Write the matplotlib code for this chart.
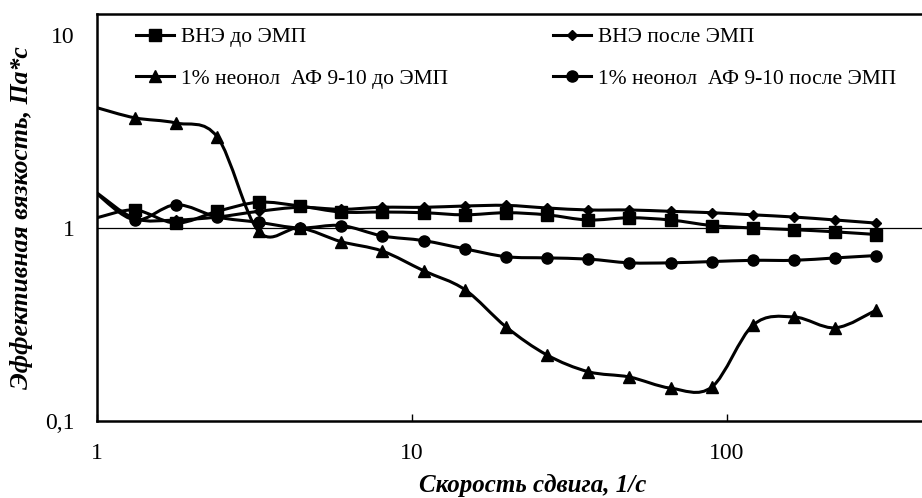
import numpy as np
import matplotlib
matplotlib.use("Agg")
import matplotlib.pyplot as plt
from matplotlib.path import Path
from matplotlib.patches import PathPatch
from matplotlib.lines import Line2D
from matplotlib.ticker import FixedLocator, FuncFormatter, NullLocator

plt.rcParams['font.family'] = ['Liberation Serif', 'DejaVu Serif']

# ---- data ----
shear_rate = [1.0, 1.32, 1.78, 2.41, 3.26, 4.40, 5.95, 8.04, 10.9, 14.7, 19.9,
              26.8, 36.3, 49.0, 66.2, 89.5, 121, 163, 221, 298]
vne_before = [1.13, 1.24, 1.06, 1.22, 1.36, 1.30, 1.21, 1.21, 1.20, 1.17, 1.20,
              1.17, 1.10, 1.13, 1.10, 1.03, 1.00, 0.98, 0.955, 0.925]
vne_after = [1.52, 1.12, 1.10, 1.14, 1.22, 1.28, 1.25, 1.28, 1.28, 1.30, 1.31,
             1.27, 1.24, 1.24, 1.22, 1.20, 1.17, 1.14, 1.10, 1.06]
neonol_before = [4.2, 3.72, 3.5, 2.96, 0.96, 1.0, 0.85, 0.76, 0.60, 0.48, 0.307,
                 0.22, 0.18, 0.169, 0.148, 0.15, 0.314, 0.346, 0.304, 0.376]
neonol_after = [1.5, 1.10, 1.32, 1.14, 1.07, 1.0, 1.03, 0.91, 0.86, 0.78, 0.71,
                0.70, 0.69, 0.66, 0.66, 0.67, 0.68, 0.68, 0.70, 0.72]

labels = ["ВНЭ до ЭМП", "ВНЭ после ЭМП",
          "1% неонол  АФ 9-10 до ЭМП", "1% неонол  АФ 9-10 после ЭМП"]
x_ticks = [1, 10, 100]
y_ticks = [0.1, 1, 10]

W, H = 922, 498
fig = plt.figure(figsize=(W / 100, H / 100), dpi=100)
left, right, top, bottom = 97, 970, 14, 421
ax = fig.add_axes([left / W, 1 - bottom / H, (right - left) / W, (bottom - top) / H])
ax.set_xscale('log')
ax.set_yscale('log')
ax.set_xlim(1, 10 ** ((right - left) / 315))
ax.set_ylim(0.1, 10 ** (-1 + (bottom - top) / 193))


def smooth_path(xs, ys):
    """Excel-like smoothed line as cubic Bezier path (control points in log space)."""
    P = np.column_stack([np.log10(xs), np.log10(ys)])
    n = len(P)
    verts = [P[0]]
    codes = [Path.MOVETO]
    for i in range(n - 1):
        p0 = P[i - 1] if i > 0 else P[i]
        p1, p2 = P[i], P[i + 1]
        p3 = P[i + 2] if i + 2 < n else P[i + 1]
        c1 = p1 + (p2 - p0) / 6
        c2 = p2 - (p3 - p1) / 6
        verts += [c1, c2, p2]
        codes += [Path.CURVE4] * 3
    V = 10 ** np.array(verts)
    return Path(V, codes)


lw = 2.2
series = [
    (vne_before, 's', 8),
    (vne_after, 'D', 5.5),
    (neonol_before, '^', 9),
    (neonol_after, 'o', 8),
]
handles = []
for (ys, mk, ms), lab in zip(series, labels):
    ax.add_patch(PathPatch(smooth_path(shear_rate, ys), fill=False, ec='black',
                           lw=lw, capstyle='round', joinstyle='round', zorder=3))
    ax.plot(shear_rate[1:], ys[1:], ls='none', marker=mk, ms=ms, color='black',
            zorder=4)
    handles.append(Line2D([], [], color='black', lw=lw, marker=mk, ms=ms))

# horizontal axis line at 1
ax.axhline(1, color='black', lw=0.9, zorder=2)

for s in ['left', 'top', 'bottom']:
    ax.spines[s].set_linewidth(1.8)
ax.spines['right'].set_visible(False)

ax.xaxis.set_major_locator(FixedLocator(x_ticks))
ax.xaxis.set_minor_locator(NullLocator())
ax.yaxis.set_major_locator(FixedLocator(y_ticks))
ax.yaxis.set_minor_locator(NullLocator())
fmt = FuncFormatter(lambda v, p: ('%g' % v).replace('.', ','))
ax.xaxis.set_major_formatter(fmt)
ax.yaxis.set_major_formatter(fmt)
ax.tick_params(axis='x', direction='in', length=5, width=1.0, pad=16, labelsize=17)
ax.tick_params(axis='y', length=0, pad=16, labelsize=17)

ax.set_xlabel("Скорость сдвига, 1/с", fontsize=18, fontweight='bold', style='italic')
ax.xaxis.set_label_coords((533 - left) / (right - left), -(474 - bottom) / (bottom - top))
ax.set_ylabel("Эффективная вязкость, Па*с", fontsize=18.5, fontweight='bold', style='italic')
ax.yaxis.set_label_coords(-(97 - 33) / (right - left), 0.5)

leg_kw = dict(frameon=False, borderpad=0, borderaxespad=0, handlelength=1.75,
              handletextpad=0.35, labelspacing=1.0, fontsize=15.5,
              bbox_transform=fig.transFigure, loc='upper left')
leg1 = ax.legend([handles[0], handles[2]], [labels[0], labels[2]],
                 bbox_to_anchor=(136 / W, 1 - 27 / H), **leg_kw)
ax.add_artist(leg1)
ax.legend([handles[1], handles[3]], [labels[1], labels[3]],
          bbox_to_anchor=(553 / W, 1 - 27 / H), **leg_kw)

fig.savefig("out.png", dpi=100)
